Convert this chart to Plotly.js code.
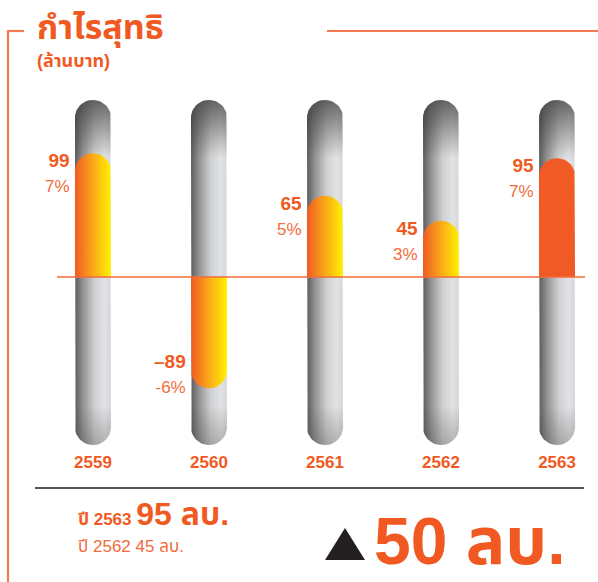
<!DOCTYPE html>
<html><head><meta charset="utf-8">
<script src="https://cdn.plot.ly/plotly-3.0.1.min.js"></script>
<style>html,body{margin:0;padding:0;background:#fff}</style>
</head><body><div id="chart" style="width:598px;height:582px"></div>
<script>
// ---- data ----
const years = ['2559', '2560', '2561', '2562', '2563'];
const profit = [99, -89, 65, 45, 95];          // ล้านบาท
const marginPct = [7, -6, 5, 3, 7];            // %
const highlightYear = '2563';
const currentLabel = 'ปี 2563', currentValue = 95;
const prevLabel = 'ปี 2562', prevValue = 45;
const changeValue = 50;
const unitText = 'ลบ.';
const titleText = 'กำไรสุทธิ';
const subtitleText = '(ล้านบาท)';

// ---- layout geometry ----
const W = 598, H = 582;
const M = {l: 57, r: 13, t: 95, b: 132};
const PW = W - M.l - M.r, PH = H - M.t - M.b;
const xRange = [-0.31, 4.241];
const yRange = [-138.4, 145.6];
const pxPerX = PW / (xRange[1] - xRange[0]);
const pxPerY = PH / (yRange[1] - yRange[0]);
const barPx = 36;
const rx = barPx / 2 / pxPerX, ry = barPx / 2 / pxPerY;
const trackTop = yRange[1] - 4, trackBot = yRange[0] + 4;

const ORANGE = '#f05a22';
const FONT = 'Liberation Sans, Arial, Noto Sans Thai, Loma, sans-serif';

function px(x) { return (x - M.l) / PW; }
function py(y) { return (M.t + PH - y) / PH; }

function poly(xc, lo, hi, roundLo, roundHi) {
  const xs = [], ys = [];
  const N = 24;
  xs.push(xc - rx); ys.push(roundHi ? hi - ry : hi);
  if (roundLo) {
    for (let i = 0; i <= N; i++) {
      const t = Math.PI + Math.PI * i / N;
      xs.push(xc + rx * Math.cos(t)); ys.push(lo + ry + ry * Math.sin(t));
    }
  } else { xs.push(xc - rx, xc + rx); ys.push(lo, lo); }
  if (roundHi) {
    for (let i = 0; i <= N; i++) {
      const t = Math.PI * i / N;
      xs.push(xc + rx * Math.cos(t)); ys.push(hi - ry + ry * Math.sin(t));
    }
  } else { xs.push(xc + rx, xc - rx); ys.push(hi, hi); }
  return {xs, ys};
}

const traces = [];
const base = {type: 'scatter', mode: 'lines', fill: 'toself', line: {width: 0}, hoverinfo: 'skip', showlegend: false};

years.forEach((y, i) => {
  const t = poly(i, trackBot, trackTop, true, true);
  traces.push(Object.assign({}, base, {x: t.xs, y: t.ys,
    fillgradient: {type: 'horizontal', colorscale: [[0, '#5c5c5c'], [0.22, '#929292'], [0.55, '#cfd0d2'], [0.82, '#e1e2e4'], [1, '#d6d7d9']]}}));
  const tt = poly(i, trackTop - 3.2 * ry, trackTop, false, true);
  traces.push(Object.assign({}, base, {x: tt.xs, y: tt.ys,
    fillgradient: {type: 'vertical', colorscale: [[0, 'rgba(60,60,60,0)'], [1, 'rgba(60,60,60,0.75)']]}}));
  const tb = poly(i, trackBot, trackBot + 2.2 * ry, true, false);
  traces.push(Object.assign({}, base, {x: tb.xs, y: tb.ys,
    fillgradient: {type: 'vertical', colorscale: [[0, 'rgba(60,60,60,0.3)'], [1, 'rgba(60,60,60,0)']]}}));
});

years.forEach((y, i) => {
  const v = profit[i];
  const b = v >= 0 ? poly(i, 0, v, false, true) : poly(i, v, 0, true, false);
  const tr = Object.assign({}, base, {x: b.xs, y: b.ys});
  if (y === highlightYear) {
    tr.fillcolor = '#f15a24';
  } else {
    tr.fillgradient = {type: 'horizontal', colorscale: [[0, '#f05a22'], [0.45, '#f9a11b'], [1, '#fff200']]};
  }
  traces.push(tr);
});

const annotations = [];
years.forEach((y, i) => {
  const v = profit[i];
  const num = v < 0 ? '\u2013' + Math.abs(v) : String(v);
  annotations.push({
    xref: 'x', yref: 'y', x: i, y: v,
    xanchor: 'right', yanchor: v >= 0 ? 'top' : 'bottom',
    xshift: -(barPx / 2 + 3), yshift: v >= 0 ? 5 : -11,
    align: 'right', showarrow: false,
    text: '<b>' + num + '</b><br><span style="font-size:17px;color:#f26b3a">' + marginPct[i] + '%</span>',
    font: {family: FONT, size: 19, color: ORANGE}
  });
});

annotations.push({xref: 'paper', yref: 'paper', x: px(35), y: py(28), xanchor: 'left', yanchor: 'middle', showarrow: false,
  text: '<b>' + titleText + '</b>', font: {family: FONT, size: 34, color: ORANGE}});
annotations.push({xref: 'paper', yref: 'paper', x: px(35), y: py(61), xanchor: 'left', yanchor: 'middle', showarrow: false,
  text: '<b>' + subtitleText + '</b>', font: {family: FONT, size: 18, color: ORANGE}});

annotations.push({xref: 'paper', yref: 'paper', x: px(76), y: py(534), xanchor: 'left', yanchor: 'bottom', showarrow: false,
  text: '<b>' + currentLabel + ' <span style="font-size:32px">' + currentValue + ' ' + unitText + '</span></b>',
  font: {family: FONT, size: 17, color: ORANGE}});
annotations.push({xref: 'paper', yref: 'paper', x: px(76), y: py(546), xanchor: 'left', yanchor: 'middle', showarrow: false,
  text: prevLabel + ' ' + prevValue + ' ' + unitText,
  font: {family: FONT, size: 17, color: '#f26b3a'}});
annotations.push({xref: 'paper', yref: 'paper', x: px(372), y: py(541), xanchor: 'left', yanchor: 'middle', showarrow: false,
  text: '<b>' + changeValue + ' ' + unitText + '</b>',
  font: {family: FONT, size: 66, color: ORANGE}});

const shapes = [
  {type: 'line', xref: 'paper', yref: 'y', x0: 0, x1: 1, y0: 0, y1: 0, line: {color: '#f26b3a', width: 1.6}, layer: 'above'},
  {type: 'line', xref: 'paper', yref: 'paper', x0: px(8), x1: px(8), y0: py(31), y1: py(590), line: {color: '#f47a50', width: 2.2}},
  {type: 'line', xref: 'paper', yref: 'paper', x0: px(7), x1: px(24), y0: py(31), y1: py(31), line: {color: '#f47a50', width: 2.2}},
  {type: 'line', xref: 'paper', yref: 'paper', x0: px(327), x1: px(600), y0: py(31), y1: py(31), line: {color: '#f47a50', width: 2.2}},
  {type: 'line', xref: 'paper', yref: 'paper', x0: px(35), x1: px(584), y0: py(488), y1: py(488), line: {color: '#555555', width: 2}},
  {type: 'path', xref: 'paper', yref: 'paper', fillcolor: '#231f20', line: {width: 0},
    path: 'M' + px(325) + ',' + py(560) + ' L' + px(345) + ',' + py(528) + ' L' + px(365) + ',' + py(560) + ' Z'}
];

const layout = {
  width: W, height: H, margin: M,
  paper_bgcolor: '#ffffff', plot_bgcolor: 'rgba(0,0,0,0)',
  showlegend: false,
  xaxis: {range: xRange, tickvals: years.map((_, i) => i), ticktext: years.map(y => '<b>' + y + '</b>'),
    tickfont: {family: FONT, size: 17, color: ORANGE}, showgrid: false, zeroline: false, showline: false, ticks: '', fixedrange: true},
  yaxis: {range: yRange, visible: false, showgrid: false, zeroline: false, fixedrange: true},
  annotations, shapes
};

Plotly.newPlot('chart', traces, layout, {displayModeBar: false, staticPlot: true});
</script></body></html>
